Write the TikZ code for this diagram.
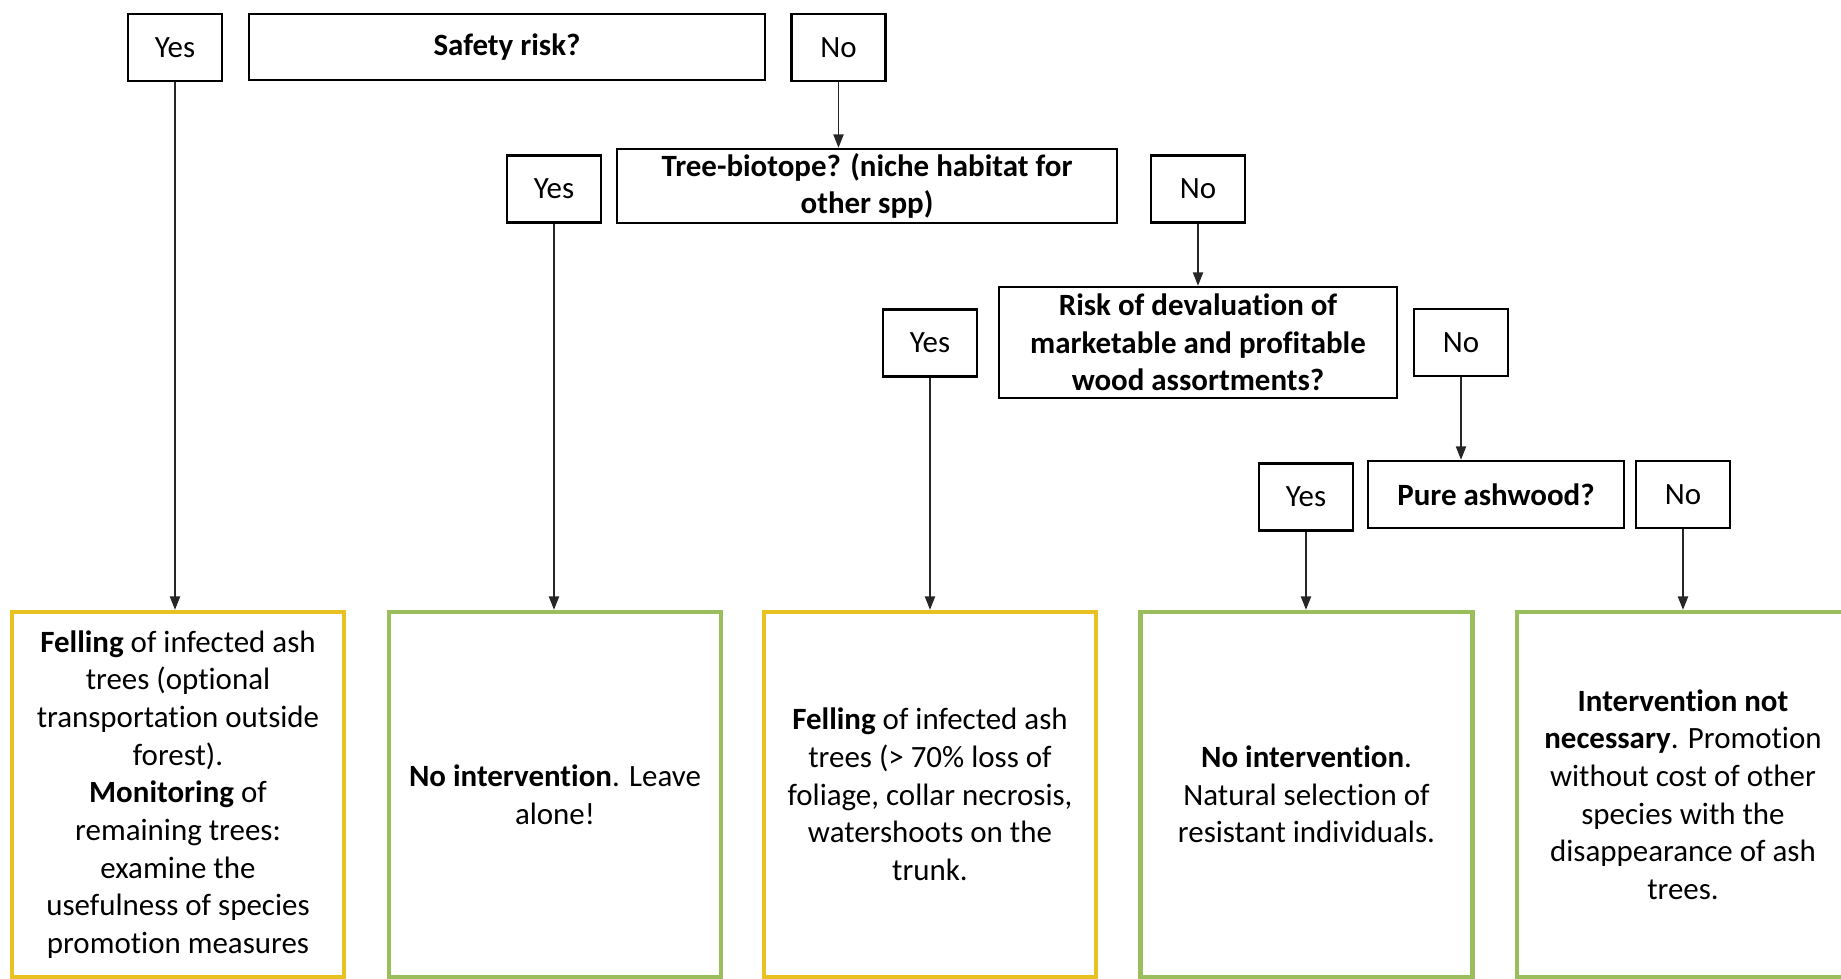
\documentclass[tikz,border=0pt]{standalone}
\usepackage{fontspec}
\setmainfont{Carlito}[Ligatures=CommonOff]
\usepackage{xcolor}
\usetikzlibrary{arrows.meta}

\definecolor{fellyellow}{RGB}{232,194,32}
\definecolor{keepgreen}{RGB}{155,190,92}

\begin{document}
\begin{tikzpicture}[
    x=0.01cm, y=-0.01cm,
    font=\fontsize{8.8}{10.7}\selectfont,
    answer/.style={rectangle, draw=black, line width=0.7pt, inner sep=0pt, minimum width=0.94cm, minimum height=0.67cm, align=center},
    question/.style={rectangle, draw=black, line width=0.7pt, inner sep=0pt, align=center, font=\fontsize{8.8}{10.7}\selectfont\bfseries},
    fellbox/.style={rectangle, draw=fellyellow, line width=1.2pt, inner sep=0pt, minimum width=3.32cm, minimum height=3.65cm, align=center},
    keepbox/.style={rectangle, draw=keepgreen, line width=1.2pt, inner sep=0pt, minimum width=3.32cm, minimum height=3.65cm, align=center},
    arrow/.style={-{Triangle[width=2.9pt,length=3.8pt]}, line width=0.4pt, draw=black!85}
]
\useasboundingbox (0,0) rectangle (1841,979);

% Row 1: Safety risk
\node[answer] (yes_safety) at (175,47.5) {Yes};
\node[question, minimum width=5.16cm, minimum height=0.66cm] (safety) at (507,47) {Safety risk?};
\node[answer] (no_safety) at (838.5,47.5) {No};

% Row 2: Tree-biotope
\node[answer] (yes_biotope) at (554,189) {Yes};
\node[question, minimum width=5.00cm, minimum height=0.74cm] (biotope) at (867,186) {Tree-biotope? (niche habitat for\\other spp)};
\node[answer] (no_biotope) at (1198,189) {No};

% Row 3: Devaluation risk
\node[answer] (yes_value) at (930,343) {Yes};
\node[question, minimum width=3.98cm, minimum height=1.11cm] (value) at (1198,342.5) {Risk of devaluation of\\marketable and profitable\\wood assortments?};
\node[answer] (no_value) at (1461,342.5) {No};

% Row 4: Pure ashwood
\node[answer] (yes_pure) at (1306,497) {Yes};
\node[question, minimum width=2.56cm, minimum height=0.67cm] (pure) at (1496,494.5) {Pure ashwood?};
\node[answer] (no_pure) at (1683,494.5) {No};

% Row 5: Measures
\node[fellbox] (fell_all) at (178,794.5) {\textbf{Felling} of infected ash\\trees (optional\\transportation outside\\forest).\\\textbf{Monitoring} of\\remaining trees:\\examine the\\usefulness of species\\promotion measures};
\node[keepbox] (leave) at (555,794.5) {\textbf{No intervention}. Leave\\alone!};
\node[fellbox] (fell_some) at (930,794.5) {\textbf{Felling} of infected ash\\trees (> 70\% loss of\\foliage, collar necrosis,\\watershoots on the\\trunk.};
\node[keepbox] (select) at (1306.5,794.5) {\textbf{No intervention}.\\Natural selection of\\resistant individuals.};
\node[keepbox] (promote) at (1683,794.5) {\textbf{Intervention not}\\\textbf{necessary}. Promotion\\without cost of other\\species with the\\disappearance of ash\\trees.};

% Connectors
\draw[arrow] (yes_safety) -- (yes_safety |- fell_all.north);
\draw[arrow] (no_safety) -- (no_safety |- biotope.north);
\draw[arrow] (yes_biotope) -- (yes_biotope |- leave.north);
\draw[arrow] (no_biotope) -- (no_biotope |- value.north);
\draw[arrow] (yes_value) -- (yes_value |- fell_some.north);
\draw[arrow] (no_value) -- (no_value |- pure.north);
\draw[arrow] (yes_pure) -- (yes_pure |- select.north);
\draw[arrow] (no_pure) -- (no_pure |- promote.north);

\end{tikzpicture}
\end{document}
